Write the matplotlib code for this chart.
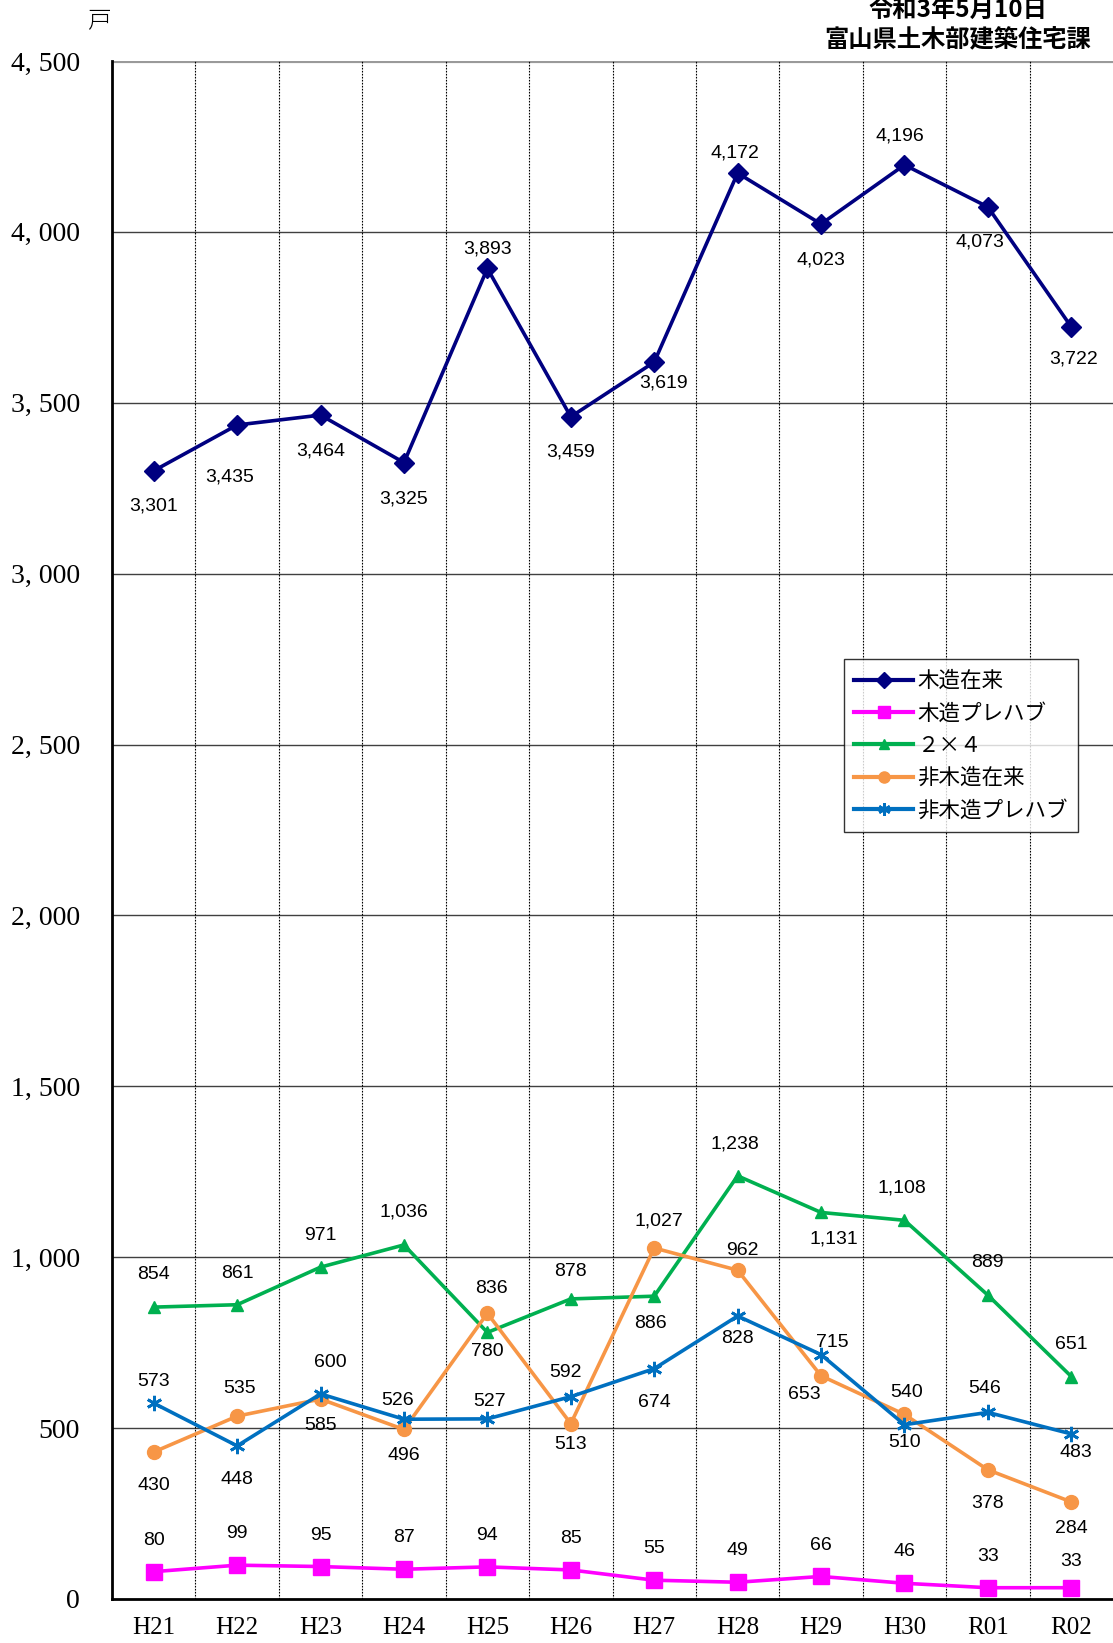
import matplotlib
matplotlib.use("Agg")
import matplotlib.pyplot as plt
from matplotlib.lines import Line2D

years = ["H21", "H22", "H23", "H24", "H25", "H26", "H27", "H28", "H29", "H30", "R01", "R02"]
series_names = ["木造在来", "木造プレハブ", "２×４", "非木造在来", "非木造プレハブ"]
mokuzo_zairai = [3301, 3435, 3464, 3325, 3893, 3459, 3619, 4172, 4023, 4196, 4073, 3722]
mokuzo_prefab = [80, 99, 95, 87, 94, 85, 55, 49, 66, 46, 33, 33]
two_by_four = [854, 861, 971, 1036, 780, 878, 886, 1238, 1131, 1108, 889, 651]
hi_mokuzo_zairai = [430, 535, 585, 496, 836, 513, 1027, 962, 653, 540, 378, 284]
hi_mokuzo_prefab = [573, 448, 600, 526, 527, 592, 674, 828, 715, 510, 546, 483]
y_ticks = [0, 500, 1000, 1500, 2000, 2500, 3000, 3500, 4000, 4500]

# label offsets (pixels in the displayed reference), (dx, dy) with dy positive = up
off_mz = [(0, -34), (-7, -50), (0, -34), (0, -35), (0, 19), (0, -34), (9, -20), (-3, 19), (0, -34), (-4, 28), (-8, -33), (2, -31)]
off_mp = [(0, 30)] * 11 + [(0, 25)]
off_24 = [(0, 31), (0, 30), (0, 30), (0, 31), (0, -18), (0, 26), (-4, -26), (-3, 30), (12, -25), (-2, 31), (0, 31), (0, 31)]
off_hz = [(0, -32), (2, 26), (0, -25), (0, -25), (4, 24), (0, -20), (4, 26), (5, 19), (-16, -18), (2, 21), (0, -32), (0, -25)]
off_hp = [(0, 21), (0, -32), (9, 30), (-6, 18), (2, 17), (-5, 23), (0, -32), (0, -21), (11, 12), (0, -17), (-3, 23), (4, -18)]
SC = 1113 / 1062

colors = ["#000080", "#FF00FF", "#00B050", "#F79646", "#0070C0"]
markers = ["D", "s", "^", "o", (6, 2, 0)]
msizes = [10, 11, 9, 10, 11]

W, H = 1113, 1643
fig = plt.figure(figsize=(W / 100, H / 100), dpi=100)
ax = fig.add_axes([112 / W, (H - 1599) / H, 1001 / W, 1538 / H])

data = [mokuzo_zairai, mokuzo_prefab, two_by_four, hi_mokuzo_zairai, hi_mokuzo_prefab]
offs = [off_mz, off_mp, off_24, off_hz, off_hp]
xs = list(range(len(years)))

for yv in y_ticks[1:]:
    ax.axhline(yv, color="#9a9a9a" if yv == 4500 else "#404040",
               lw=3 if yv == 4500 else 1.0, zorder=1)
for i in range(len(years) - 1):
    ax.axvline(i + 0.5, color="black", lw=0.8, ls=(0, (1.5, 1.2)), zorder=1)

handles = []
for vals, off, c, m, ms, name in zip(data, offs, colors, markers, msizes, series_names):
    mew = 2 if isinstance(m, tuple) else 1
    ax.plot(xs, vals, color=c, lw=2.6, marker=m, ms=ms, mec=c, mfc=c, mew=mew, zorder=3)
    handles.append(Line2D([0], [0], color=c, lw=3, marker=m, ms=ms * 0.8, mec=c, mfc=c, mew=mew))
    for x, v, (dx, dy) in zip(xs, vals, off):
        ax.annotate(f"{v:,}", (x, v), xytext=(dx * SC, dy * SC), textcoords="offset pixels",
                    ha="center", va="center", fontsize=14, family="Liberation Sans", zorder=4)

ax.set_xlim(-0.5, 11.5)
ax.set_ylim(0, 4500)
ax.set_yticks(y_ticks)
ax.set_yticklabels([f"{v:,}".replace(",", ", ") for v in y_ticks], family="Liberation Serif", fontsize=20)
ax.set_xticks(xs)
ax.set_xticklabels(years, family="Liberation Serif", fontsize=18)
ax.tick_params(axis="both", length=0)
ax.tick_params(axis="y", pad=23)
ax.tick_params(axis="x", pad=13)
for s in ["top", "right"]:
    ax.spines[s].set_visible(False)
ax.spines["left"].set_linewidth(2)
ax.spines["bottom"].set_linewidth(2)

leg = ax.legend(handles, series_names, loc="upper left", bbox_to_anchor=(0.731, 0.611),
                prop={"family": ["Noto Sans CJK JP"], "size": 15.5}, frameon=True, fancybox=False,
                edgecolor="black", handlelength=2.7, labelspacing=0.48, borderpad=0.5,
                handletextpad=0.2, borderaxespad=0)
leg.get_frame().set_linewidth(1)
leg.set_zorder(5)

fig.text(100 / W, 1 - 21 / H, "戸", family=["Noto Sans CJK JP"], fontsize=17, fontweight="light",
         ha="center", va="center")
fig.text(958 / W, 1 - 10 / H, "令和3年5月10日", family=["Noto Sans CJK JP"], fontsize=17.5,
         fontweight="bold", ha="center", va="center")
fig.text(958 / W, 1 - 40 / H, "富山県土木部建築住宅課", family=["Noto Sans CJK JP"], fontsize=17.5,
         fontweight="bold", ha="center", va="center")

fig.savefig("out.png", dpi=100)
